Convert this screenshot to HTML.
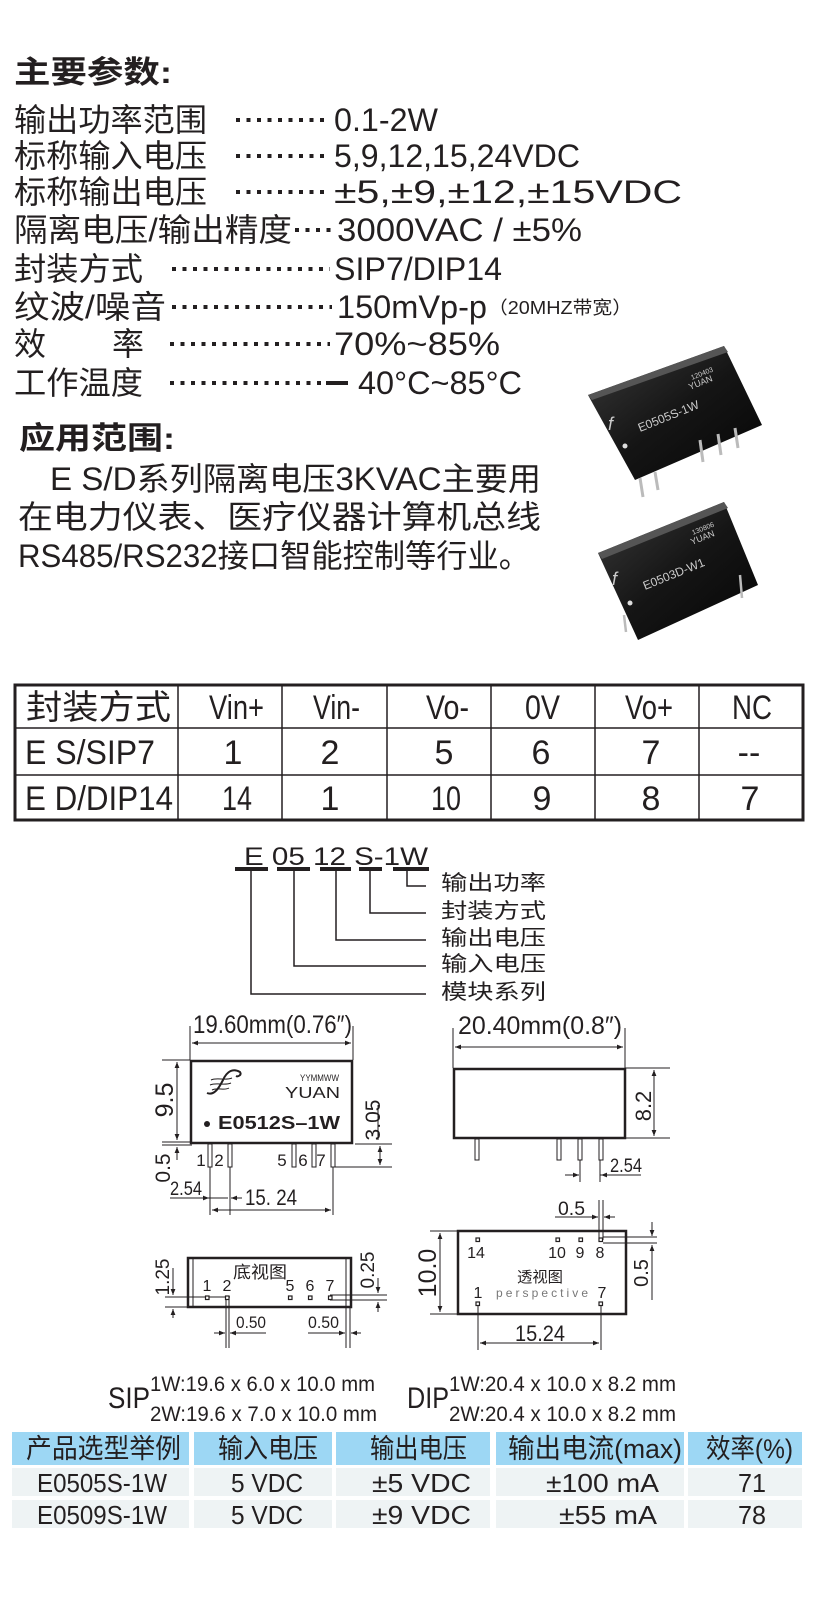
<!DOCTYPE html>
<html><head><meta charset="utf-8">
<style>
html,body{margin:0;padding:0;background:#fff;}
svg{display:block;}
text{font-family:"Liberation Sans","Noto Sans CJK SC",sans-serif;fill:#231f20;}
.cj{font-family:"Liberation Sans","Noto Sans CJK SC",sans-serif;}
</style></head><body>
<svg width="819" height="1610" viewBox="0 0 819 1610" xmlns="http://www.w3.org/2000/svg">
<defs>
<marker id="a" viewBox="0 0 10 10" refX="10" refY="5" markerWidth="6" markerHeight="6" orient="auto-start-reverse"><path d="M0,1 L10,5 L0,9 z" fill="#231f20"/></marker>
<linearGradient id="g1" x1="0" y1="0" x2="1" y2="1"><stop offset="0" stop-color="#3a3a3a"/><stop offset="0.5" stop-color="#151515"/><stop offset="1" stop-color="#050505"/></linearGradient>
</defs>

<!-- Title -->
<text x="14" y="83" font-size="31" font-weight="bold" textLength="158" lengthAdjust="spacingAndGlyphs">主要参数:</text>

<!-- spec rows -->
<g font-size="32">
<text x="14" y="131" textLength="193" lengthAdjust="spacingAndGlyphs">输出功率范围</text>
<text x="334" y="131" textLength="104" lengthAdjust="spacingAndGlyphs">0.1-2W</text>
<text x="14" y="167" textLength="193" lengthAdjust="spacingAndGlyphs">标称输入电压</text>
<text x="334" y="167" textLength="246" lengthAdjust="spacingAndGlyphs">5,9,12,15,24VDC</text>
<text x="14" y="203" textLength="193" lengthAdjust="spacingAndGlyphs">标称输出电压</text>
<text x="334" y="203" textLength="348" lengthAdjust="spacingAndGlyphs">±5,±9,±12,±15VDC</text>
<text x="14" y="241" textLength="278" lengthAdjust="spacingAndGlyphs">隔离电压/输出精度</text>
<text x="337" y="241" textLength="245" lengthAdjust="spacingAndGlyphs">3000VAC / ±5%</text>
<text x="14" y="280" textLength="129" lengthAdjust="spacingAndGlyphs">封装方式</text>
<text x="334" y="280" textLength="168" lengthAdjust="spacingAndGlyphs">SIP7/DIP14</text>
<text x="14" y="318" textLength="152" lengthAdjust="spacingAndGlyphs">纹波/噪音</text>
<text x="337" y="318" textLength="150" lengthAdjust="spacingAndGlyphs">150mVp-p</text>
<text x="488" y="314" font-size="18" textLength="144" lengthAdjust="spacingAndGlyphs">（20MHZ带宽）</text>
<text x="14" y="355">效</text>
<text x="112" y="355">率</text>
<text x="334" y="355" textLength="166" lengthAdjust="spacingAndGlyphs">70%~85%</text>
<text x="14" y="394" textLength="129" lengthAdjust="spacingAndGlyphs">工作温度</text>
<text x="358" y="394" textLength="164" lengthAdjust="spacingAndGlyphs">40°C~85°C</text>
</g>
<g stroke="#231f20" stroke-width="4" stroke-dasharray="4 6.5">
<line x1="236" y1="120" x2="330" y2="120"/>
<line x1="236" y1="156" x2="330" y2="156"/>
<line x1="236" y1="192" x2="330" y2="192"/>
<line x1="295" y1="230" x2="334" y2="230"/>
<line x1="172" y1="269" x2="330" y2="269"/>
<line x1="172" y1="307" x2="332" y2="307"/>
<line x1="170" y1="344" x2="330" y2="344"/>
<line x1="170" y1="383" x2="325" y2="383"/>
</g>
<rect x="326" y="381" width="22" height="4" fill="#231f20"/>

<text x="19" y="449" font-size="31" font-weight="bold" textLength="156" lengthAdjust="spacingAndGlyphs">应用范围:</text>
<g font-size="32">
<text x="50" y="490" textLength="491" lengthAdjust="spacingAndGlyphs">E S/D系列隔离电压3KVAC主要用</text>
<text x="18" y="528" textLength="523" lengthAdjust="spacingAndGlyphs">在电力仪表、医疗仪器计算机总线</text>
<text x="18" y="567" textLength="512" lengthAdjust="spacingAndGlyphs">RS485/RS232接口智能控制等行业。</text>
</g>

<!-- photos -->
<g>
<polygon points="588,395 724,346 762,425 635,480" fill="url(#g1)"/>
<polygon points="588,395 724,346 728,352 592,400" fill="#555"/>
<g stroke="#bbb" stroke-width="3"><line x1="640" y1="478" x2="643" y2="497"/><line x1="655" y1="472" x2="658" y2="490"/><line x1="700" y1="440" x2="703" y2="462"/><line x1="718" y1="434" x2="721" y2="455"/><line x1="735" y1="428" x2="738" y2="448"/></g>
<text x="0" y="0" font-size="12" fill="#ccc" style="fill:#ccc" transform="translate(640,432) rotate(-22)">E0505S-1W</text>
<text x="0" y="0" font-size="9" style="fill:#ccc" transform="translate(690,390) rotate(-22)">YUAN</text>
<text x="0" y="0" font-size="7" style="fill:#ccc" transform="translate(692,380) rotate(-22)">120403</text>
<text x="608" y="430" font-size="18" style="fill:#ccc" font-style="italic">f</text>
<circle cx="625" cy="446" r="2.5" fill="#ddd"/>

<polygon points="598,553 724,502 758,585 638,640" fill="url(#g1)"/>
<polygon points="598,553 724,502 728,508 602,559" fill="#555"/>
<g stroke="#bbb" stroke-width="2.5"><line x1="624" y1="615" x2="626" y2="632"/><line x1="740" y1="575" x2="742" y2="598"/></g>
<text x="0" y="0" font-size="12" style="fill:#ccc" transform="translate(645,590) rotate(-22)">E0503D-W1</text>
<text x="0" y="0" font-size="9" style="fill:#ccc" transform="translate(692,545) rotate(-22)">YUAN</text>
<text x="0" y="0" font-size="7" style="fill:#ccc" transform="translate(693,535) rotate(-22)">130806</text>
<text x="612" y="585" font-size="18" style="fill:#ccc" font-style="italic">f</text>
<circle cx="630" cy="603" r="2.5" fill="#ddd"/>
</g>

<!-- pin table -->
<g stroke="#231f20" fill="none">
<rect x="15" y="685" width="788" height="135" stroke-width="3"/>
<g stroke-width="1.5">
<line x1="15" y1="728" x2="803" y2="728"/>
<line x1="15" y1="775" x2="803" y2="775"/>
<line x1="178" y1="685" x2="178" y2="820"/>
<line x1="282" y1="685" x2="282" y2="820"/>
<line x1="387" y1="685" x2="387" y2="820"/>
<line x1="491" y1="685" x2="491" y2="820"/>
<line x1="595" y1="685" x2="595" y2="820"/>
<line x1="699" y1="685" x2="699" y2="820"/>
</g></g>
<g font-size="34">
<text x="26" y="719" textLength="145" lengthAdjust="spacingAndGlyphs">封装方式</text>
<text x="209" y="719" textLength="55" lengthAdjust="spacingAndGlyphs">Vin+</text>
<text x="313" y="719" textLength="47" lengthAdjust="spacingAndGlyphs">Vin-</text>
<text x="426" y="719" textLength="43" lengthAdjust="spacingAndGlyphs">Vo-</text>
<text x="525" y="719" textLength="35" lengthAdjust="spacingAndGlyphs">0V</text>
<text x="625" y="719" textLength="48" lengthAdjust="spacingAndGlyphs">Vo+</text>
<text x="732" y="719" textLength="40" lengthAdjust="spacingAndGlyphs">NC</text>
<text x="25" y="764" textLength="130" lengthAdjust="spacingAndGlyphs">E S/SIP7</text>
<text x="25" y="810" textLength="148" lengthAdjust="spacingAndGlyphs">E D/DIP14</text>
</g>
<g font-size="34" text-anchor="middle">
<text x="233" y="764">1</text><text x="330" y="764">2</text><text x="444" y="764">5</text><text x="541" y="764">6</text><text x="651" y="764">7</text><text x="749" y="764">--</text>
<text x="237" y="810" textLength="30" lengthAdjust="spacingAndGlyphs">14</text><text x="330" y="810">1</text><text x="446" y="810" textLength="30" lengthAdjust="spacingAndGlyphs">10</text><text x="542" y="810">9</text><text x="651" y="810">8</text><text x="750" y="810">7</text>
</g>

<!-- naming code -->
<text x="244" y="865" font-size="25" textLength="184" lengthAdjust="spacingAndGlyphs">E 05 12 S-1W</text>
<g fill="#231f20">
<rect x="235" y="867" width="33" height="4"/><rect x="277" y="867" width="33" height="4"/><rect x="320" y="867" width="31" height="4"/><rect x="359" y="867" width="23" height="4"/><rect x="393" y="867" width="36" height="4"/>
</g>
<g stroke="#231f20" stroke-width="1.5" fill="none">
<polyline points="407,871 407,886 426,886"/>
<polyline points="370,871 370,913 426,913"/>
<polyline points="336,871 336,940 426,940"/>
<polyline points="294,871 294,966 426,966"/>
<polyline points="251,871 251,994 426,994"/>
</g>
<g font-size="21">
<text x="441" y="890" textLength="105" lengthAdjust="spacingAndGlyphs">输出功率</text>
<text x="441" y="918" textLength="105" lengthAdjust="spacingAndGlyphs">封装方式</text>
<text x="441" y="945" textLength="105" lengthAdjust="spacingAndGlyphs">输出电压</text>
<text x="441" y="971" textLength="105" lengthAdjust="spacingAndGlyphs">输入电压</text>
<text x="441" y="999" textLength="105" lengthAdjust="spacingAndGlyphs">模块系列</text>
</g>

<!-- SIP front view -->
<g stroke="#231f20" fill="none" stroke-width="1">
<line x1="190" y1="1026" x2="190" y2="1060"/><line x1="353" y1="1026" x2="353" y2="1060"/>
<line x1="192" y1="1043" x2="351" y2="1043" marker-start="url(#a)" marker-end="url(#a)"/>
<line x1="162" y1="1060" x2="190" y2="1060"/>
<line x1="177" y1="1062" x2="177" y2="1140" marker-start="url(#a)" marker-end="url(#a)"/>
<line x1="162" y1="1142" x2="192" y2="1142"/><line x1="162" y1="1145" x2="192" y2="1145"/>
<line x1="177" y1="1160" x2="177" y2="1147" marker-end="url(#a)"/>
<line x1="355" y1="1144" x2="392" y2="1144"/><line x1="335" y1="1167" x2="392" y2="1167"/>
<line x1="380" y1="1146" x2="380" y2="1165" marker-start="url(#a)" marker-end="url(#a)"/>
<line x1="378" y1="1105" x2="378" y2="1140"/>
<line x1="210" y1="1167" x2="210" y2="1215"/><line x1="230" y1="1167" x2="230" y2="1215"/><line x1="333" y1="1167" x2="333" y2="1215"/>
<line x1="170" y1="1198" x2="228" y2="1198"/>
<line x1="196" y1="1198" x2="209" y2="1198" marker-end="url(#a)"/>
<line x1="242" y1="1198" x2="231" y2="1198" marker-end="url(#a)"/>
<line x1="212" y1="1210" x2="331" y2="1210" marker-start="url(#a)" marker-end="url(#a)"/>
</g>
<rect x="191" y="1061" width="161" height="82" fill="none" stroke="#231f20" stroke-width="2.5"/>
<g fill="#fff" stroke="#231f20" stroke-width="1">
<rect x="208" y="1144" width="4" height="23"/><rect x="228" y="1144" width="4" height="23"/><rect x="292" y="1144" width="4" height="23"/><rect x="312" y="1144" width="4" height="23"/><rect x="331" y="1144" width="4" height="23"/>
</g>
<g stroke="#231f20" fill="none" stroke-width="2">
<path d="M207,1093 C214,1096 219,1088 223,1080 C227,1071 233,1068 240,1072 C242,1075 238,1077 236,1076"/>
<path d="M211,1080 C217,1077 225,1081 232,1078" stroke-width="1"/>
<path d="M210,1085 C217,1082 224,1086 231,1083" stroke-width="1"/>
<path d="M212,1090 C218,1087 224,1091 229,1088" stroke-width="1"/>
</g>
<text x="300" y="1081" font-size="9" textLength="39" lengthAdjust="spacingAndGlyphs">YYMMWW</text>
<text x="285" y="1098" font-size="16" textLength="55" lengthAdjust="spacingAndGlyphs">YUAN</text>
<circle cx="207" cy="1124" r="3" fill="#231f20"/>
<text x="218" y="1129" font-size="18" font-weight="bold" textLength="122" lengthAdjust="spacingAndGlyphs">E0512S–1W</text>
<text x="193" y="1033" font-size="25" textLength="159" lengthAdjust="spacingAndGlyphs">19.60mm(0.76″)</text>
<text transform="translate(173,1100) rotate(-90)" font-size="25" text-anchor="middle">9.5</text>
<text transform="translate(380,1120) rotate(-90)" font-size="21" text-anchor="middle">3.05</text>
<text transform="translate(170,1168) rotate(-90)" font-size="21" text-anchor="middle">0.5</text>
<g font-size="17" text-anchor="middle">
<text x="201" y="1166">1</text><text x="219" y="1166">2</text><text x="282" y="1166">5</text><text x="303" y="1166">6</text><text x="321" y="1166">7</text>
</g>
<text x="170" y="1195" font-size="19" textLength="32" lengthAdjust="spacingAndGlyphs">2.54</text>
<text x="245" y="1205" font-size="22" textLength="52" lengthAdjust="spacingAndGlyphs">15. 24</text>

<!-- DIP side view -->
<g stroke="#231f20" fill="none" stroke-width="1">
<line x1="453" y1="1028" x2="453" y2="1068"/><line x1="625" y1="1028" x2="625" y2="1068"/>
<line x1="455" y1="1047" x2="623" y2="1047" marker-start="url(#a)" marker-end="url(#a)"/>
<line x1="625" y1="1068" x2="670" y2="1068"/><line x1="625" y1="1138" x2="670" y2="1138"/>
<line x1="654" y1="1070" x2="654" y2="1136" marker-start="url(#a)" marker-end="url(#a)"/>
<line x1="600" y1="1160" x2="600" y2="1182"/><line x1="580" y1="1160" x2="580" y2="1182"/>
<line x1="565" y1="1175" x2="579" y2="1175" marker-end="url(#a)"/>
<line x1="600" y1="1175" x2="641" y2="1175"/>
<line x1="612" y1="1175" x2="601" y2="1175" marker-end="url(#a)"/>
</g>
<rect x="454" y="1069" width="171" height="69" fill="none" stroke="#231f20" stroke-width="2.5"/>
<g fill="#fff" stroke="#231f20" stroke-width="1">
<rect x="475" y="1139" width="4" height="21"/><rect x="557" y="1139" width="4" height="21"/><rect x="578" y="1139" width="4" height="21"/><rect x="599" y="1139" width="4" height="21"/>
</g>
<text x="458" y="1034" font-size="25" textLength="164" lengthAdjust="spacingAndGlyphs">20.40mm(0.8″)</text>
<text transform="translate(651,1106) rotate(-90)" font-size="22" text-anchor="middle">8.2</text>
<text x="610" y="1172" font-size="19" textLength="32" lengthAdjust="spacingAndGlyphs">2.54</text>

<!-- SIP bottom view -->
<rect x="188" y="1258" width="163" height="49" fill="none" stroke="#231f20" stroke-width="2.5"/>
<g stroke="#231f20" fill="none" stroke-width="1">
<line x1="193" y1="1258" x2="193" y2="1307"/><line x1="346" y1="1258" x2="346" y2="1307"/>
<line x1="165" y1="1297" x2="230" y2="1297"/><line x1="165" y1="1307" x2="188" y2="1307"/>
<line x1="173" y1="1268" x2="173" y2="1295" marker-end="url(#a)"/>
<line x1="173" y1="1318" x2="173" y2="1309" marker-end="url(#a)"/>
<line x1="330" y1="1295" x2="387" y2="1295"/><line x1="330" y1="1300" x2="387" y2="1300"/>
<line x1="378" y1="1278" x2="378" y2="1293" marker-end="url(#a)"/>
<line x1="378" y1="1312" x2="378" y2="1302" marker-end="url(#a)"/>
<line x1="226" y1="1300" x2="226" y2="1348"/><line x1="229" y1="1300" x2="229" y2="1348"/>
<line x1="214" y1="1333" x2="225" y2="1333" marker-end="url(#a)"/>
<line x1="266" y1="1333" x2="230" y2="1333" marker-end="url(#a)"/>
<line x1="346" y1="1307" x2="346" y2="1348"/><line x1="350" y1="1307" x2="350" y2="1348"/>
<line x1="308" y1="1333" x2="345" y2="1333" marker-end="url(#a)"/>
<line x1="361" y1="1333" x2="351" y2="1333" marker-end="url(#a)"/>
</g>
<g fill="#fff" stroke="#231f20" stroke-width="1.2">
<rect x="205.5" y="1296" width="3.5" height="3.5"/><rect x="225.5" y="1296" width="3.5" height="3.5"/><rect x="288.5" y="1296" width="3.5" height="3.5"/><rect x="308.5" y="1296" width="3.5" height="3.5"/><rect x="328.5" y="1296" width="3.5" height="3.5"/>
</g>
<text x="233" y="1278" font-size="17" textLength="54" lengthAdjust="spacingAndGlyphs">底视图</text>
<g font-size="16" text-anchor="middle">
<text x="207" y="1291">1</text><text x="227" y="1291">2</text><text x="290" y="1291">5</text><text x="310" y="1291">6</text><text x="330" y="1291">7</text>
</g>
<text transform="translate(169,1277) rotate(-90)" font-size="19" text-anchor="middle">1.25</text>
<text transform="translate(374,1270) rotate(-90)" font-size="19" text-anchor="middle">0.25</text>
<text x="236" y="1328" font-size="17" textLength="30" lengthAdjust="spacingAndGlyphs">0.50</text>
<text x="308" y="1328" font-size="17" textLength="31" lengthAdjust="spacingAndGlyphs">0.50</text>

<!-- DIP top view -->
<rect x="458" y="1231" width="168" height="83" fill="none" stroke="#231f20" stroke-width="2.5"/>
<g stroke="#231f20" fill="none" stroke-width="1">
<line x1="599" y1="1200" x2="599" y2="1240"/><line x1="603" y1="1200" x2="603" y2="1240"/>
<line x1="555" y1="1217" x2="598" y2="1217" marker-end="url(#a)"/>
<line x1="615" y1="1217" x2="604" y2="1217" marker-end="url(#a)"/>
<line x1="603" y1="1237" x2="657" y2="1237"/><line x1="603" y1="1243" x2="657" y2="1243"/>
<line x1="652" y1="1222" x2="652" y2="1236" marker-end="url(#a)"/>
<line x1="652" y1="1300" x2="652" y2="1245" marker-end="url(#a)"/>
<line x1="430" y1="1231" x2="458" y2="1231"/><line x1="430" y1="1314" x2="458" y2="1314"/>
<line x1="440" y1="1233" x2="440" y2="1312" marker-start="url(#a)" marker-end="url(#a)"/>
<line x1="478" y1="1305" x2="478" y2="1350"/><line x1="601" y1="1305" x2="601" y2="1350"/>
<line x1="480" y1="1343" x2="599" y2="1343" marker-start="url(#a)" marker-end="url(#a)"/>
</g>
<g fill="#fff" stroke="#231f20" stroke-width="1.2">
<rect x="476" y="1238" width="3.5" height="3.5"/><rect x="556" y="1238" width="3.5" height="3.5"/><rect x="579" y="1238" width="3.5" height="3.5"/><rect x="599" y="1238" width="3.5" height="3.5"/>
<rect x="476" y="1302" width="3.5" height="3.5"/><rect x="599" y="1302" width="3.5" height="3.5"/>
</g>
<g font-size="16" text-anchor="middle">
<text x="476" y="1258">14</text><text x="557" y="1258">10</text><text x="580" y="1258">9</text><text x="600" y="1258">8</text>
<text x="478" y="1298">1</text><text x="602" y="1298">7</text>
</g>
<text x="517" y="1282" font-size="15" textLength="46" lengthAdjust="spacingAndGlyphs">透视图</text>
<text x="496" y="1297" font-size="12" style="fill:#777" font-family="Liberation Serif, serif" textLength="92" lengthAdjust="spacing">perspective</text>
<text transform="translate(436,1273) rotate(-90)" font-size="25" text-anchor="middle">10.0</text>
<text transform="translate(648,1273) rotate(-90)" font-size="20" text-anchor="middle">0.5</text>
<text x="558" y="1215" font-size="19" textLength="27" lengthAdjust="spacingAndGlyphs">0.5</text>
<text x="515" y="1341" font-size="22" textLength="50" lengthAdjust="spacingAndGlyphs">15.24</text>

<!-- size lines -->
<text x="108" y="1408" font-size="30" textLength="42" lengthAdjust="spacingAndGlyphs">SIP</text>
<text x="150" y="1391" font-size="21" textLength="225" lengthAdjust="spacingAndGlyphs">1W:19.6 x 6.0 x 10.0 mm</text>
<text x="150" y="1421" font-size="21" textLength="227" lengthAdjust="spacingAndGlyphs">2W:19.6 x 7.0 x 10.0 mm</text>
<text x="407" y="1408" font-size="30" textLength="42" lengthAdjust="spacingAndGlyphs">DIP</text>
<text x="449" y="1391" font-size="21" textLength="227" lengthAdjust="spacingAndGlyphs">1W:20.4 x 10.0 x 8.2 mm</text>
<text x="449" y="1421" font-size="21" textLength="227" lengthAdjust="spacingAndGlyphs">2W:20.4 x 10.0 x 8.2 mm</text>

<!-- selection table -->
<g fill="#9dd7f4">
<rect x="12" y="1432" width="177" height="33"/><rect x="194" y="1432" width="138" height="33"/><rect x="336" y="1432" width="154" height="33"/><rect x="496" y="1432" width="188" height="33"/><rect x="688" y="1432" width="114" height="33"/>
</g>
<g fill="#eef3f4">
<rect x="12" y="1468" width="177" height="28"/><rect x="194" y="1468" width="138" height="28"/><rect x="336" y="1468" width="154" height="28"/><rect x="496" y="1468" width="188" height="28"/><rect x="688" y="1468" width="114" height="28"/>
<rect x="12" y="1500" width="177" height="28"/><rect x="194" y="1500" width="138" height="28"/><rect x="336" y="1500" width="154" height="28"/><rect x="496" y="1500" width="188" height="28"/><rect x="688" y="1500" width="114" height="28"/>
</g>
<g font-size="27">
<text x="26" y="1458" textLength="155" lengthAdjust="spacingAndGlyphs">产品选型举例</text>
<text x="218" y="1458" textLength="100" lengthAdjust="spacingAndGlyphs">输入电压</text>
<text x="370" y="1458" textLength="97" lengthAdjust="spacingAndGlyphs">输出电压</text>
<text x="508" y="1458" textLength="174" lengthAdjust="spacingAndGlyphs">输出电流(max)</text>
<text x="706" y="1458" textLength="87" lengthAdjust="spacingAndGlyphs">效率(%)</text>
</g>
<g font-size="26">
<text x="37" y="1492" textLength="130" lengthAdjust="spacingAndGlyphs">E0505S-1W</text>
<text x="231" y="1492" textLength="72" lengthAdjust="spacingAndGlyphs">5 VDC</text>
<text x="372" y="1492" textLength="99" lengthAdjust="spacingAndGlyphs">±5 VDC</text>
<text x="546" y="1492" textLength="113" lengthAdjust="spacingAndGlyphs">±100 mA</text>
<text x="738" y="1492" textLength="28" lengthAdjust="spacingAndGlyphs">71</text>
<text x="37" y="1524" textLength="130" lengthAdjust="spacingAndGlyphs">E0509S-1W</text>
<text x="231" y="1524" textLength="72" lengthAdjust="spacingAndGlyphs">5 VDC</text>
<text x="372" y="1524" textLength="99" lengthAdjust="spacingAndGlyphs">±9 VDC</text>
<text x="559" y="1524" textLength="98" lengthAdjust="spacingAndGlyphs">±55 mA</text>
<text x="738" y="1524" textLength="28" lengthAdjust="spacingAndGlyphs">78</text>
</g>
</svg>
</body></html>
